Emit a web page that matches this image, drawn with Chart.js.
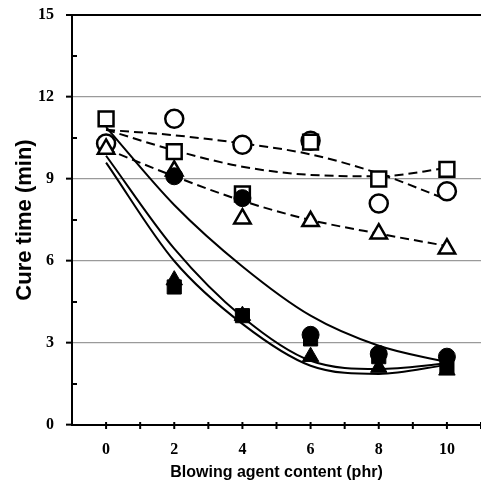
<!DOCTYPE html>
<html>
<head>
<meta charset="utf-8">
<script src="https://cdn.jsdelivr.net/npm/chart.js@4.4.1/dist/chart.umd.min.js"></script>
<style>
  html, body { margin: 0; padding: 0; background: #fff; overflow: hidden; }
  canvas { display: block; }
</style>
</head>
<body>
<canvas id="c" width="481" height="490"></canvas>
<script>
// blowing agent content (phr)
const xs = [0, 2, 4, 6, 8, 10];

// measured cure times (min)
const openCircle   = [10.3, 11.2, 10.25, 10.4, 8.1, 8.55];
const openSquare   = [11.2, 10.0, 8.45, 10.35, 9.0, 9.35];
const openTriangle = [10.1, 9.3, 7.55, 7.45, 7.0, 6.45];
const fillCircle   = [null, 9.1, 8.3, 3.3, 2.6, 2.5];
const fillSquare   = [null, 5.05, 4.0, 3.15, 2.5, 2.15];
const fillTriangle = [null, 5.3, 4.0, 2.5, 2.1, 2.0];

// trend curves at the same x
const fitOpenCircle   = [10.8, 10.6, 10.3, 9.9, 9.2, 8.25];
const fitOpenSquare   = [10.8, 10.05, 9.45, 9.15, 9.1, 9.4];
const fitOpenTriangle = [10.1, 9.1, 8.2, 7.5, 7.0, 6.55];
const fitFillCircle   = [10.9, 8.05, 5.8, 4.0, 2.9, 2.3];
const fitFillSquare   = [9.85, 6.45, 3.95, 2.35, 2.05, 2.25];
const fitFillTriangle = [9.6, 6.0, 3.7, 2.17, 1.87, 2.2];

const yMajor = [0, 3, 6, 9, 12, 15];
const xLabels = [0, 2, 4, 6, 8, 10];

const pts = arr => xs.map((x, i) => ({ x, y: arr[i] }));

function markers(label, arr, style, filled, radius) {
    return {
        type: 'scatter',
        label,
        data: pts(arr),
        pointStyle: style,
        pointRadius: radius,
        pointBorderWidth: filled ? 1 : 2.5,
        pointBorderColor: '#000',
        pointBackgroundColor: filled ? '#000' : '#fff',
        showLine: false,
        order: 1,
    };
}

function curve(label, arr, dashed) {
    return {
        type: 'line',
        label,
        data: pts(arr),
        borderColor: '#000',
        borderWidth: 2,
        borderDash: dashed ? [9, 5] : [],
        pointRadius: 0,
        fill: false,
        cubicInterpolationMode: 'monotone',
        order: 5,
    };
}

// la zone de tracé va jusqu'au bord droit, comme l'original
const stretchRight = {
    id: 'stretchRight',
    afterLayout(chart) {
        const x = chart.scales.x;
        chart.chartArea.right = chart.width;
        chart.chartArea.width = chart.chartArea.right - chart.chartArea.left;
        x.right = chart.width;
        x.width = x.right - x.left;
        x.configure();
    },
};

// graduations : mineures vers l'intérieur en Y, croisées sur l'axe X
const axisTicks = {
    id: 'axisTicks',
    afterDraw(chart) {
        const { ctx, scales: { x, y } } = chart;
        ctx.save();
        ctx.strokeStyle = '#000';
        ctx.lineWidth = 2;
        for (let v = 1.5; v < 15; v += 3) {
            const py = y.getPixelForValue(v);
            ctx.beginPath();
            ctx.moveTo(x.left, py);
            ctx.lineTo(x.left + 5, py);
            ctx.stroke();
        }
        for (let v = 0; v <= 11; v += 1) {
            const px = x.getPixelForValue(v);
            ctx.beginPath();
            ctx.moveTo(px, y.bottom - 3);
            ctx.lineTo(px, y.bottom + 4);
            ctx.stroke();
        }
        ctx.restore();
    },
};

new Chart(document.getElementById('c'), {
    data: {
        datasets: [
            markers('fill circle', fillCircle, 'circle', true, 8.5),
            markers('fill square', fillSquare, 'rect', true, 10),
            markers('fill triangle', fillTriangle, 'triangle', true, 9.5),
            markers('open triangle', openTriangle, 'triangle', false, 9.5),
            markers('open square', openSquare, 'rect', false, 10.5),
            markers('open circle', openCircle, 'circle', false, 9),
            curve('fit fill circle', fitFillCircle, false),
            curve('fit fill square', fitFillSquare, false),
            curve('fit fill triangle', fitFillTriangle, false),
            curve('fit open circle', fitOpenCircle, true),
            curve('fit open square', fitOpenSquare, true),
            curve('fit open triangle', fitOpenTriangle, true),
        ],
    },
    options: {
        responsive: false,
        animation: false,
        layout: { padding: { top: 15, right: 0, left: 0, bottom: 0 } },
        plugins: { legend: { display: false }, tooltip: { enabled: false } },
        scales: {
            x: {
                type: 'linear',
                min: -1,
                max: 11,
                afterFit: s => { s.height = 65; s.paddingLeft = 0; s.paddingRight = 0; },
                border: { color: '#000', width: 2 },
                grid: { drawOnChartArea: false, tickLength: 15, tickColor: 'rgba(0,0,0,0)' },
                ticks: {
                    stepSize: 1,
                    autoSkip: false,
                    maxRotation: 0,
                    padding: 0,
                    color: '#000',
                    font: { family: 'Liberation Serif', size: 16, weight: 'bold' },
                    callback: v => xLabels.includes(v) ? String(v) : '',
                },
                title: {
                    display: true,
                    text: 'Blowing agent content (phr)',
                    color: '#000',
                    font: { family: 'Liberation Sans', size: 16, weight: 'bold', lineHeight: 1.2 },
                    padding: { top: 0, bottom: 8 },
                },
            },
            y: {
                min: 0,
                max: 15,
                afterFit: s => { s.width = 72; s.paddingTop = 0; s.paddingBottom = 0; },
                border: { color: '#000', width: 2 },
                grid: {
                    color: c => c.tick.value === 15 ? '#000'
                        : (yMajor.includes(c.tick.value) ? '#9a9a9a' : 'rgba(0,0,0,0)'),
                    lineWidth: c => c.tick.value === 15 ? 2 : 1.3,
                    tickLength: 6,
                    tickWidth: 2,
                    tickColor: c => yMajor.includes(c.tick.value) ? '#000' : 'rgba(0,0,0,0)',
                },
                ticks: {
                    stepSize: 1.5,
                    autoSkip: false,
                    padding: 12,
                    color: '#000',
                    font: { family: 'Liberation Serif', size: 16, weight: 'bold' },
                    callback: v => yMajor.includes(v) ? String(v) : '',
                },
                title: {
                    display: true,
                    text: 'Cure time (min)',
                    color: '#000',
                    font: { family: 'Liberation Sans', size: 22, weight: 'bold', lineHeight: 1.2 },
                    padding: { top: 12, bottom: 0 },
                },
            },
        },
    },
    plugins: [stretchRight, axisTicks],
});
</script>
</body>
</html>
